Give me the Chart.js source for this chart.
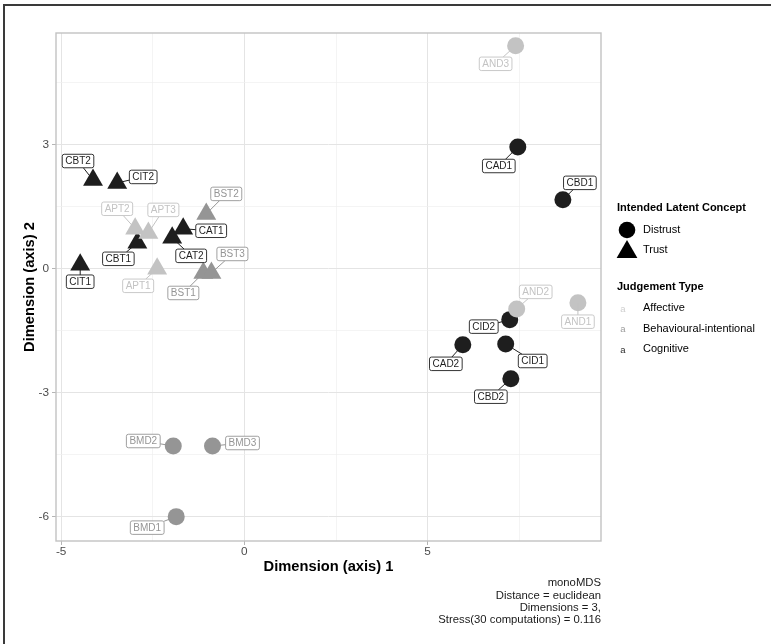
<!DOCTYPE html>
<html>
<head>
<meta charset="utf-8">
<script src="https://cdn.jsdelivr.net/npm/chart.js@4.4.1/dist/chart.umd.min.js"></script>
<style>
  html, body { margin: 0; padding: 0; background: #ffffff; }
  #wrap { position: relative; width: 771px; height: 644px; }
</style>
</head>
<body>
<div id="wrap"><canvas id="nmds" width="771" height="644"></canvas></div>
<script>
// NMDS item scores (monoMDS, first two dimensions)
const itemCodes = [
  'CBT2','CIT2','CBT1','CIT1','CAT1','CAT2',
  'APT1','APT2','APT3','BST1','BST2','BST3',
  'CAD1','CAD2','CBD1','CBD2','CID1','CID2',
  'AND1','AND2','AND3','BMD1','BMD2','BMD3'
];
const dim1 = [
  -4.13, -3.47, -2.92, -4.48, -1.67, -1.97,
  -2.38, -2.98, -2.62, -1.12, -1.04, -0.90,
   7.46,  5.96,  8.69,  7.27,  7.13,  7.24,
   9.10,  7.43,  7.40, -1.86, -1.94, -0.87
];
const dim2 = [
   2.15,  2.08,  0.63,  0.10,  0.97,  0.75,
   0.00,  0.97,  0.87, -0.10,  1.33, -0.10,
   2.95, -1.84,  1.67, -2.66, -1.82, -1.23,
  -0.82, -0.97,  5.40, -6.00, -4.29, -4.29
];
const latentConcept = [
  'Trust','Trust','Trust','Trust','Trust','Trust',
  'Trust','Trust','Trust','Trust','Trust','Trust',
  'Distrust','Distrust','Distrust','Distrust','Distrust','Distrust',
  'Distrust','Distrust','Distrust','Distrust','Distrust','Distrust'
];
const judgementType = [
  'Cognitive','Cognitive','Cognitive','Cognitive','Cognitive','Cognitive',
  'Affective','Affective','Affective','Behavioural-intentional','Behavioural-intentional','Behavioural-intentional',
  'Cognitive','Cognitive','Cognitive','Cognitive','Cognitive','Cognitive',
  'Affective','Affective','Affective','Behavioural-intentional','Behavioural-intentional','Behavioural-intentional'
];

// legend entries
const conceptLevels = ['Distrust', 'Trust'];
const typeLevels = ['Affective', 'Behavioural-intentional', 'Cognitive'];

// axis ticks
const xMajor = [-5, 0, 5];
const xTickLabels = ['-5', '0', '5'];
const xMinor = [-2.5, 2.5, 7.5];
const yMajor = [-6, -3, 0, 3];
const yTickLabels = ['-6', '-3', '0', '3'];
const yMinor = [-4.5, -1.5, 1.5, 4.5];

const captionLines = ['monoMDS', 'Distance = euclidean', 'Dimensions = 3,', 'Stress(30 computations) = 0.116'];

// repelled label offsets (pixels from the point)
const labelNudge = [
  [-15,-19], [26,-6], [-19,16], [0,17], [28,2], [19,18],
  [-19,17], [-18,-20], [15,-23], [-20,20], [20,-20], [21,-19],
  [-19,19], [-17,19], [17,-17], [-20,18], [27,17], [-26,7],
  [0,19], [19,-17], [-20,18], [-29,11], [-30,-5], [30,-3]
];

const FONT = '"Liberation Sans", Arial, Helvetica, sans-serif';
const typeColour = {
  'Affective': '#c3c3c3',
  'Behavioural-intentional': '#959595',
  'Cognitive': '#1e1e1e'
};
const keyColour = {
  'Affective': '#cfcfcf',
  'Behavioural-intentional': '#9c9c9c',
  'Cognitive': '#2e2e2e'
};

Chart.defaults.font.family = FONT;

// one dataset per judgement type; lighter groups drawn above darker ones
const datasets = typeLevels.map(t => ({
  label: t,
  data: itemCodes.map((c, i) => ({ x: dim1[i], y: dim2[i], item: i }))
                 .filter(p => judgementType[p.item] === t),
  backgroundColor: typeColour[t],
  borderWidth: 0,
  pointStyle: ctx => latentConcept[ctx.raw.item] === 'Trust' ? 'triangle' : 'circle',
  pointRadius: ctx => latentConcept[ctx.raw.item] === 'Trust' ? 11.5 : 8.5,
  pointHoverRadius: ctx => latentConcept[ctx.raw.item] === 'Trust' ? 11.5 : 8.5
}));

function triangle(ctx, x, y, r) {
  ctx.beginPath();
  for (let k = 0; k < 3; k++) {
    const a = k * 2 * Math.PI / 3;
    const px = x + Math.sin(a) * r, py = y - Math.cos(a) * r;
    if (k === 0) ctx.moveTo(px, py); else ctx.lineTo(px, py);
  }
  ctx.closePath();
  ctx.fill();
}

const frame = {
  id: 'frame',
  afterDraw(chart) {
    const { ctx, chartArea: a } = chart;
    ctx.save();
    // panel border
    ctx.strokeStyle = '#c2c2c2';
    ctx.lineWidth = 1.4;
    ctx.strokeRect(a.left, a.top, a.right - a.left, a.bottom - a.top);
    // outer frame
    ctx.strokeStyle = '#3a3a3a';
    ctx.lineWidth = 2;
    ctx.strokeRect(4, 5, 900, 800);
    ctx.restore();
  }
};

const repelLabels = {
  id: 'repelLabels',
  afterDatasetsDraw(chart) {
    const { ctx, scales: { x, y } } = chart;
    ctx.save();
    ctx.font = '10px ' + FONT;
    ctx.textAlign = 'center';
    ctx.textBaseline = 'middle';
    itemCodes.forEach((code, i) => {
      const px = x.getPixelForValue(dim1[i]);
      const py = y.getPixelForValue(dim2[i]);
      const [dx, dy] = labelNudge[i];
      const cx = px + dx, cy = py + dy;
      const w = ctx.measureText(code).width + 6;
      const h = 13.5;
      const col = typeColour[judgementType[i]];
      const t = Math.min(dx ? (w / 2) / Math.abs(dx) : Infinity, dy ? (h / 2) / Math.abs(dy) : Infinity);
      if (t < 1) {
        ctx.strokeStyle = col;
        ctx.lineWidth = 1;
        ctx.beginPath();
        ctx.moveTo(px, py);
        ctx.lineTo(cx - dx * t, cy - dy * t);
        ctx.stroke();
      }
      ctx.fillStyle = '#ffffff';
      ctx.strokeStyle = col;
      ctx.lineWidth = 0.9;
      ctx.beginPath();
      ctx.roundRect(cx - w / 2, cy - h / 2, w, h, 2);
      ctx.fill();
      ctx.stroke();
      ctx.fillStyle = col;
      ctx.fillText(code, cx, cy + 0.5);
    });
    ctx.restore();
  }
};

const sideLegend = {
  id: 'sideLegend',
  afterDraw(chart) {
    const { ctx, chartArea: a } = chart;
    const lx = a.right + 16;
    ctx.save();
    ctx.textAlign = 'left';
    ctx.textBaseline = 'middle';
    ctx.fillStyle = '#000000';
    ctx.font = 'bold 11px ' + FONT;
    ctx.fillText('Intended Latent Concept', lx, 208);
    ctx.font = '11px ' + FONT;
    conceptLevels.forEach((lev, k) => {
      const ky = 230 + k * 20;
      ctx.fillStyle = '#000000';
      if (lev === 'Trust') {
        triangle(ctx, lx + 10, ky + 2, 12);
      } else {
        ctx.beginPath();
        ctx.arc(lx + 10, ky, 8.3, 0, Math.PI * 2);
        ctx.fill();
      }
      ctx.fillText(lev, lx + 26, ky);
    });
    ctx.font = 'bold 11px ' + FONT;
    ctx.fillText('Judgement Type', lx, 287);
    typeLevels.forEach((lev, k) => {
      const ky = 308 + k * 20.5;
      ctx.font = '9.5px ' + FONT;
      ctx.textAlign = 'center';
      ctx.fillStyle = keyColour[lev];
      ctx.fillText('a', lx + 6, ky + 1);
      ctx.font = '11px ' + FONT;
      ctx.textAlign = 'left';
      ctx.fillStyle = '#000000';
      ctx.fillText(lev, lx + 26, ky);
    });
    // caption
    ctx.font = '11.3px ' + FONT;
    ctx.textAlign = 'right';
    ctx.fillStyle = '#1a1a1a';
    captionLines.forEach((line, k) => {
      ctx.fillText(line, a.right, 583 + k * 12.4);
    });
    ctx.restore();
  }
};

const isMajorX = v => xMajor.includes(v);
const isMajorY = v => yMajor.includes(v);

new Chart(document.getElementById('nmds'), {
  type: 'scatter',
  data: { datasets },
  plugins: [repelLabels, sideLegend, frame],
  options: {
    responsive: false,
    animation: false,
    devicePixelRatio: 1,
    layout: { padding: { left: 0, top: 33, right: 170, bottom: 63 } },
    plugins: { legend: { display: false }, tooltip: { enabled: false } },
    scales: {
      x: {
        type: 'linear',
        min: -5.14,
        max: 9.73,
        afterBuildTicks: s => { s.ticks = xMajor.concat(xMinor).sort((p, q) => p - q).map(v => ({ value: v })); },
        afterFit: s => { s.height = 40; },
        border: { display: false },
        grid: {
          color: c => (c.tick && isMajorX(c.tick.value)) ? '#e4e4e4' : '#efefef',
          lineWidth: c => (c.tick && isMajorX(c.tick.value)) ? 1 : 0.7,
          drawTicks: true,
          tickLength: 4,
          tickColor: c => (c.tick && isMajorX(c.tick.value)) ? '#b5b5b5' : 'rgba(0,0,0,0)',
          tickWidth: 1
        },
        ticks: {
          autoSkip: false,
          maxRotation: 0,
          padding: 0,
          color: '#4d4d4d',
          font: { size: 11.8 },
          callback: v => isMajorX(v) ? xTickLabels[xMajor.indexOf(v)] : ''
        },
        title: {
          display: true,
          text: 'Dimension (axis) 1',
          color: '#000000',
          font: { size: 14.7, weight: 'bold' },
          padding: { top: 0, bottom: 5.2 }
        }
      },
      y: {
        type: 'linear',
        min: -6.59,
        max: 5.71,
        afterBuildTicks: s => { s.ticks = yMajor.concat(yMinor).sort((p, q) => p - q).map(v => ({ value: v })); },
        afterFit: s => { s.width = 56; },
        border: { display: false },
        grid: {
          color: c => (c.tick && isMajorY(c.tick.value)) ? '#e4e4e4' : '#efefef',
          lineWidth: c => (c.tick && isMajorY(c.tick.value)) ? 1 : 0.7,
          drawTicks: true,
          tickLength: 4,
          tickColor: c => (c.tick && isMajorY(c.tick.value)) ? '#b5b5b5' : 'rgba(0,0,0,0)',
          tickWidth: 1
        },
        ticks: {
          autoSkip: false,
          padding: 3,
          color: '#4d4d4d',
          font: { size: 11.8 },
          callback: v => isMajorY(v) ? yTickLabels[yMajor.indexOf(v)] : ''
        },
        title: {
          display: true,
          text: 'Dimension (axis) 2',
          color: '#000000',
          font: { size: 14.7, weight: 'bold' },
          padding: { top: 21.2, bottom: 0 }
        }
      }
    }
  }
});
</script>
</body>
</html>
